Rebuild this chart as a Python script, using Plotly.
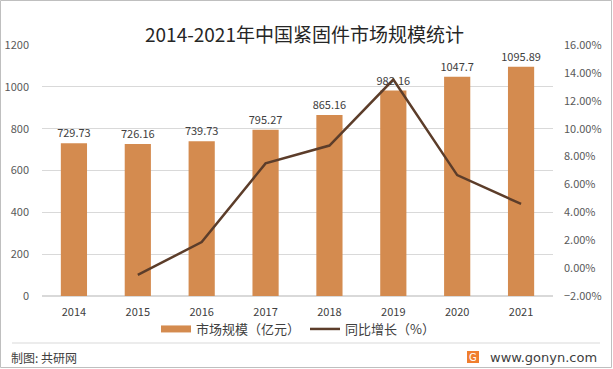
import plotly.graph_objects as go

years = ["2014", "2015", "2016", "2017", "2018", "2019", "2020", "2021"]
market_size = [729.73, 726.16, 739.73, 795.27, 865.16, 982.16, 1047.7, 1095.89]
growth_years = ["2015", "2016", "2017", "2018", "2019", "2020", "2021"]
growth_pct = [-0.49, 1.87, 7.51, 8.79, 13.52, 6.67, 4.60]
size_labels = ["729.73", "726.16", "739.73", "795.27", "865.16", "982.16", "1047.7", "1095.89"]

FONT = "Noto Sans CJK SC"
BAR_COLOR = "#D48B4F"
LINE_COLOR = "#5C3D2A"
L, R, T, B = 42, 60, 45, 73
W, H = 613, 369
pw = W - L - R
ph = H - T - B

def px(x):
    return (x - L) / pw

def py(y):
    return (H - B - y) / ph

fig = go.Figure()
fig.add_trace(go.Bar(
    x=years, y=market_size, name="市场规模（亿元）", showlegend=False,
    marker=dict(color=BAR_COLOR, line=dict(width=0)),
    width=0.41,
    text=size_labels, textposition="outside", cliponaxis=False,
    constraintext="none",
    textfont=dict(size=11, color="#404040", family=FONT),
))
# legend entry for bars (wide patch like reference)
fig.add_trace(go.Scatter(
    x=[None], y=[None], name="市场规模（亿元）", mode="lines",
    line=dict(color=BAR_COLOR, width=7), showlegend=True,
))
fig.add_trace(go.Scatter(
    x=growth_years, y=growth_pct, name="同比增长（%）", yaxis="y2",
    mode="lines", line=dict(color=LINE_COLOR, width=2.5),
))

fig.update_layout(
    width=W, height=H,
    margin=dict(l=L, r=R, t=T, b=B, autoexpand=False),
    paper_bgcolor="white", plot_bgcolor="white",
    font=dict(family=FONT, size=11, color="#595959"),
    showlegend=True,
    legend=dict(orientation="h", x=px(298), xanchor="center", y=py(329), yanchor="middle",
                font=dict(size=13, color="#404040"), traceorder="normal",
                bgcolor="rgba(0,0,0,0)"),
    xaxis=dict(type="category", showgrid=False, showline=False, ticks="",
               ticklabelstandoff=8,
               tickfont=dict(size=11, color="#404040")),
    yaxis=dict(range=[0, 1200], dtick=200, showgrid=True, gridcolor="#D9D9D9",
               zeroline=True, zerolinecolor="#D9D9D9", showline=False, ticks="",
               ticklabelstandoff=12,
               tickfont=dict(size=11, color="#595959")),
    yaxis2=dict(range=[-2, 16], dtick=2, overlaying="y", side="right",
                showgrid=False, zeroline=False, showline=False, ticks="",
                tickformat=".2f", ticksuffix="%", ticklabelstandoff=10,
                tickfont=dict(size=11, color="#595959")),
    shapes=[
        dict(type="rect", xref="paper", yref="paper",
             x0=px(0.5), x1=px(611.5), y0=py(367.5), y1=py(0.5),
             line=dict(color="#BFBFBF", width=1)),
        dict(type="line", xref="paper", yref="paper",
             x0=px(12), x1=px(600), y0=py(343), y1=py(343),
             line=dict(color="#D9D9D9", width=1)),
        dict(type="rect", xref="paper", yref="paper",
             x0=px(467), x1=px(479), y0=py(363), y1=py(351),
             fillcolor="#F07E2E", line=dict(width=0)),
    ],
    annotations=[
        dict(text="2014-2021年中国紧固件市场规模统计", xref="paper", yref="paper",
             x=px(304), y=py(33), xanchor="center", yanchor="middle", showarrow=False,
             font=dict(size=19, color="#262626", family=FONT)),
        dict(text="制图: 共研网", xref="paper", yref="paper",
             x=px(9), y=py(357), xanchor="left", yanchor="middle", showarrow=False,
             font=dict(size=12, color="#404040", family=FONT)),
        dict(text="G", xref="paper", yref="paper",
             x=px(473), y=py(357), xanchor="center", yanchor="middle", showarrow=False,
             font=dict(size=10, color="white", family="DejaVu Sans")),
        dict(text="www.gonyn.com", xref="paper", yref="paper",
             x=px(599), y=py(357), xanchor="right", yanchor="middle", showarrow=False,
             font=dict(size=13, color="#404040", family="DejaVu Sans")),
    ],
)

fig.write_html("out.html", config={"displayModeBar": False},
               post_script="document.body.style.margin='0';document.body.style.overflow='hidden';")
